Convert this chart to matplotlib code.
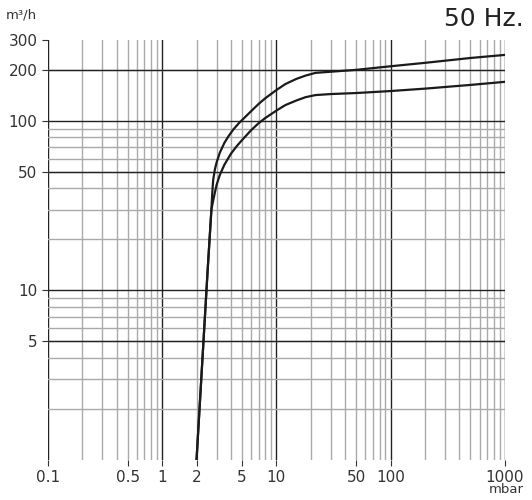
import matplotlib
matplotlib.use("Agg")
import matplotlib.pyplot as plt
from matplotlib.ticker import FixedLocator, NullFormatter

upper_x = [2, 2.5, 2.7, 2.75, 2.8, 2.9, 3.0, 3.2, 3.5, 3.8, 4.2, 4.7, 5.3, 6, 7, 8, 10, 12, 15, 18, 22, 30, 50, 100, 200, 500, 1000]
upper_y = [1, 13, 30, 38, 45, 52, 57, 65, 74, 81, 89, 97, 105, 114, 126, 136, 152, 165, 177, 185, 192, 195, 200, 210, 220, 235, 245]
lower_x = [2, 2.5, 2.7, 2.8, 2.9, 3.0, 3.2, 3.5, 4.0, 4.5, 5, 6, 7, 8, 10, 12, 15, 18, 22, 30, 50, 100, 200, 500, 1000]
lower_y = [1, 13, 30, 34, 38, 42, 48, 55, 64, 71, 77, 88, 97, 104, 115, 124, 132, 138, 142, 144, 146, 150, 155, 163, 170]
xticks = [0.1, 0.5, 1, 2, 5, 10, 50, 100, 1000]
xlabels = ["0.1", "0.5", "1", "2", "5", "10", "50", "100", "1000"]
yticks = [5, 10, 50, 100, 200, 300]
ylabels = ["5", "10", "50", "100", "200", "300"]

fig = plt.figure(figsize=(5.32, 5.0), dpi=100)
ax = fig.add_axes([0.090, 0.08, 0.859, 0.84])
ax.set_xscale("log"); ax.set_yscale("log")
ax.set_xlim(0.1, 1000); ax.set_ylim(1, 300)

xminor = [m * 10**e for e in range(-1, 3) for m in range(2, 10)]
yminor = [m * 10**e for e in range(0, 3) for m in range(2, 10) if m * 10**e < 300]
for v in xminor:
    ax.axvline(v, color="#aaaaaa", lw=1.0, zorder=1)
for v in [0.1, 1, 10, 100, 1000]:
    ax.axvline(v, color="#222222", lw=1.0, zorder=1)
for v in yminor:
    ax.axhline(v, color="#aaaaaa", lw=1.0, zorder=1)
for v in [10, 100, 5, 50, 200]:
    ax.axhline(v, color="#222222", lw=1.0, zorder=1)

ax.plot(upper_x, upper_y, color="#1a1a1a", lw=1.6, zorder=3, solid_joinstyle="round")
ax.plot(lower_x, lower_y, color="#1a1a1a", lw=1.6, zorder=3, solid_joinstyle="round")

ax.xaxis.set_major_locator(FixedLocator(xticks))
ax.set_xticklabels(xlabels)
ax.xaxis.set_minor_locator(FixedLocator([]))
ax.yaxis.set_major_locator(FixedLocator(yticks))
ax.set_yticklabels(ylabels)
ax.yaxis.set_minor_locator(FixedLocator([]))
ax.xaxis.set_minor_formatter(NullFormatter()); ax.yaxis.set_minor_formatter(NullFormatter())
ax.tick_params(labelsize=11, colors="#333333", length=4)
for s in ax.spines.values():
    s.set_visible(False)

fig.text(0.01, 0.962, "m³/h", fontsize=9.5, color="#333333")
fig.text(0.985, 0.985, "50 Hz.", fontsize=18, ha="right", va="top", color="#222222")
fig.text(0.985, 0.008, "mbar", fontsize=9.5, ha="right", va="bottom", color="#333333")
fig.savefig("out.png")
